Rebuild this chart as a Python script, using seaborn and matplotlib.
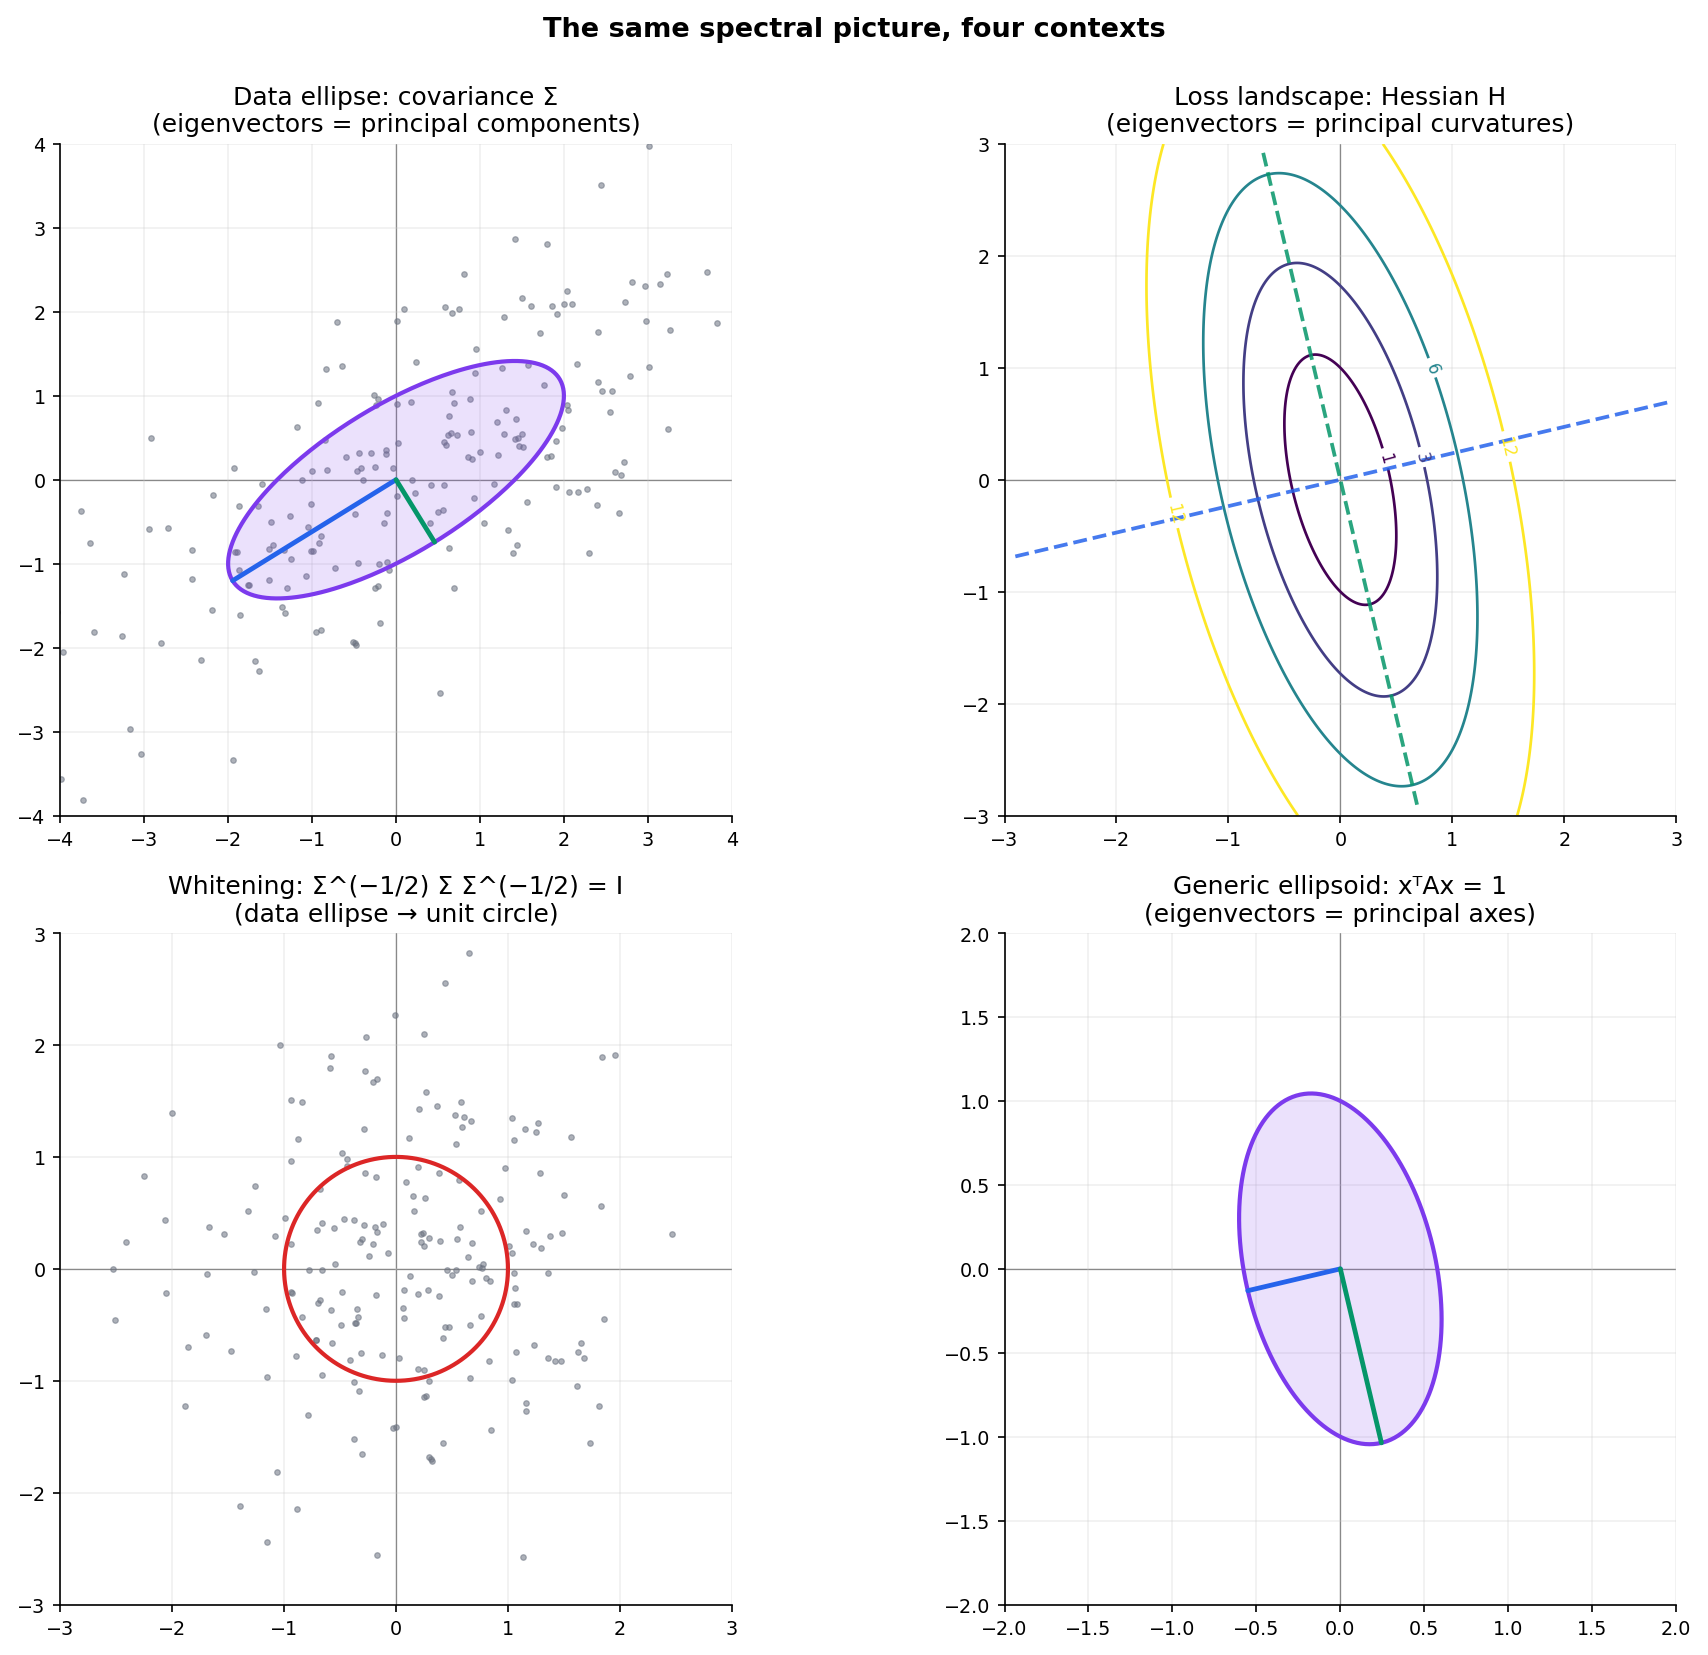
import numpy as np
import matplotlib
matplotlib.use("Agg")
import matplotlib.pyplot as plt
import seaborn as sns

sns.set_style("ticks")
plt.rcParams["font.family"] = ["DejaVu Sans"]
plt.rcParams["xtick.labelsize"] = 9.2
plt.rcParams["ytick.labelsize"] = 9.2
plt.rcParams["text.color"] = "black"
plt.rcParams["xtick.color"] = "black"
plt.rcParams["ytick.color"] = "black"
plt.rcParams["axes.edgecolor"] = "black"

# matrices behind the four panels
cov = np.array([[4.0, 2.0], [2.0, 2.0]])
hess = np.array([[5.0, 1.0], [1.0, 1.0]])
amat = np.array([[3.0, 0.5], [0.5, 1.0]])
loss_levels = [1, 3, 6, 12]
label_spots = [(0.36, 0.18), (0.72, 0.2), (0.82, 1.0), (1.5, 0.3), (-1.5, -0.3)]

# whitened samples
z_x = [-0.012, -0.265, -1.039, -0.583, -0.592, -0.280, -0.208, -0.173, -0.940, -0.836,
       -2.003, -0.289, -0.878, -0.482, -0.440, -0.940, -0.435, -0.280, -0.182, -2.253,
       -1.262, -0.682, -1.324, -2.065, -0.994, -1.673, -1.536, -1.083, -0.940, -2.408,
       -0.708, -0.664, -0.557, -0.464, -0.378, -0.289, -0.190, -0.173, -0.119, -0.324,
       -0.307, -0.208, -0.244, -0.068, -0.548, -2.530, -0.780, -0.664, -1.690, -1.271,
       -2.057, -2.512, -0.942, -0.928, -1.164, -0.699, -0.682, -0.485, -0.182, -0.842,
       -0.583, -0.351, -0.342, -0.494, -0.369, -0.360, -1.699, -1.860, -1.476, -0.717,
       -0.711, -0.574, -0.896, -0.414, -0.315, -0.128, 0.024, -1.155, -0.664, -0.378,
       -0.333, -1.887, -0.789, -0.030, -0.003, -0.378, -0.307, -1.065, -1.396, -0.887,
       -1.155, -0.173,
       0.649, 0.435, 0.247, 1.836, 1.952, 0.265, 0.202, 0.363, 0.577, 0.524,
       0.604, 0.667, 0.586, 0.533, 0.113, 1.033, 1.149, 1.265, 1.247, 1.051,
       1.560, 0.193, 0.381, 0.565, 0.970, 1.283, 0.092, 0.149, 0.256, 0.158,
       0.926, 0.756, 1.497, 1.827, 0.568, 0.220, 0.238, 0.292, 0.220, 0.247,
       0.390, 0.542, 0.676, 0.640, 1.158, 1.372, 1.479, 1.220, 1.292, 1.006,
       1.033, 2.470, 0.738, 0.774, 0.765,
       0.122, 0.452, 0.533, 0.497, 0.676, 0.800, 0.836, 1.051, 1.354, 0.068,
       0.193, 0.283, 0.381, 1.060, 0.060, 0.068, 1.051, 1.077, 0.756, 0.658,
       0.435, 0.470, 0.417, 1.854, 1.229, 1.649, 1.622, 1.676, 1.068, 1.354,
       1.417, 1.470, 0.827, 0.193, 0.247, 0.292, 0.658, 1.033, 1.613, 0.247,
       0.265, 1.158, 1.158, 1.810, 0.845, 0.417, 1.729, 0.292, 0.310, 0.318,
       1.131]
z_y = [2.271, 2.071, 2.000, 1.902, 1.795, 1.768, 1.670, 1.696, 1.509, 1.491,
       1.393, 1.250, 1.161, 1.036, 0.982, 0.964, 0.923, 0.857, 0.821, 0.830,
       0.741, 0.714, 0.518, 0.438, 0.455, 0.375, 0.313, 0.295, 0.223, 0.241,
       0.348, 0.411, 0.366, 0.446, 0.438, 0.393, 0.375, 0.330, 0.402, 0.241,
       0.268, 0.223, 0.116, 0.143, 0.045, 0.002, -0.009, -0.009, -0.045, -0.027,
       -0.214, -0.456, -0.211, -0.213, -0.357, -0.301, -0.277, -0.205, -0.232, -0.429,
       -0.366, -0.357, -0.429, -0.500, -0.485, -0.487, -0.589, -0.696, -0.732, -0.632,
       -0.637, -0.661, -0.777, -0.813, -0.750, -0.768, -0.795, -0.964, -0.946, -1.009,
       -1.089, -1.223, -1.304, -1.420, -1.411, -1.518, -1.652, -1.813, -2.116, -2.143,
       -2.438, -2.554,
       2.821, 2.554, 2.098, 1.893, 1.911, 1.580, 1.429, 1.455, 1.491, 1.375,
       1.357, 1.321, 1.268, 1.116, 1.170, 1.348, 1.250, 1.304, 1.223, 1.152,
       1.179, 0.911, 0.857, 0.795, 0.902, 0.857, 0.777, 0.652, 0.634, 0.518,
       0.625, 0.518, 0.661, 0.563, 0.375, 0.313, 0.321, 0.277, 0.241, 0.205,
       0.250, 0.268, 0.232, 0.107, 0.339, 0.295, 0.321, 0.223, 0.188, 0.205,
       0.143, 0.313, 0.018, 0.045, 0.009,
       -0.063, -0.009, -0.009, -0.054, -0.107, -0.080, -0.107, -0.036, -0.036, -0.188,
       -0.223, -0.188, -0.241, -0.170, -0.348, -0.438, -0.313, -0.313, -0.420, -0.500,
       -0.518, -0.518, -0.616, -0.446, -0.679, -0.661, -0.741, -0.795, -0.741, -0.795,
       -0.821, -0.821, -0.821, -0.893, -0.902, -1.000, -0.973, -0.991, -1.045, -1.143,
       -1.134, -1.196, -1.268, -1.223, -1.438, -1.554, -1.554, -1.679, -1.696, -1.714,
       -2.571]

BLUE = "#2563eb"
GREEN = "#059669"
PURPLE = "#7c3aed"
RED = "#dc2626"
DOT = "#6b7280"

z = np.column_stack([z_x, z_y])
vals, vecs = np.linalg.eigh(cov)
sqrt_cov = vecs @ np.diag(np.sqrt(vals)) @ vecs.T
data = z @ sqrt_cov
inv_sqrt = vecs @ np.diag(1 / np.sqrt(vals)) @ vecs.T
white = data @ inv_sqrt

t = np.linspace(0, 2 * np.pi, 300)
unit = np.vstack([np.cos(t), np.sin(t)])

fig, axes = plt.subplots(2, 2, figsize=(1708 / 150, 1656 / 150), dpi=150)
fig.subplots_adjust(left=0.0351, right=0.9815, bottom=0.0304, top=0.9125,
                    wspace=0.405, hspace=0.175)


def base(ax, lim, ticks):
    ax.axhline(0, color="0.45", lw=0.6, zorder=0.5)
    ax.axvline(0, color="0.45", lw=0.6, zorder=0.5)
    ax.set_xlim(-lim, lim)
    ax.set_ylim(-lim, lim)
    ax.set_xticks(ticks)
    ax.set_yticks(ticks)
    ax.grid(True, alpha=0.3)
    ax.set_aspect("equal")


def dots(ax, xy):
    sns.scatterplot(x=xy[:, 0], y=xy[:, 1], ax=ax, s=7, color=DOT, alpha=0.55,
                    edgecolor=DOT, linewidth=0.6, legend=False, zorder=2)


# data ellipse
ax = axes[0, 0]
base(ax, 4, np.arange(-4, 5))
dots(ax, data)
ell = vecs @ np.diag(np.sqrt(vals)) @ unit
ax.fill(ell[0], ell[1], color=PURPLE, alpha=0.15, lw=0, zorder=3)
ax.plot(ell[0], ell[1], color=PURPLE, lw=2.0, zorder=4)
big = vecs[:, 1] * np.sqrt(vals[1])
small = vecs[:, 0] * np.sqrt(vals[0])
ax.plot([0, big[0]], [0, big[1]], color=BLUE, lw=2.3, zorder=5)
ax.plot([0, small[0]], [0, small[1]], color=GREEN, lw=2.3, zorder=5)
ax.set_title("Data ellipse: covariance \u03a3\n(eigenvectors = principal components)", fontsize=12)

# loss landscape
ax = axes[0, 1]
base(ax, 3, np.arange(-3, 4))
g = np.linspace(-3, 3, 400)
gx, gy = np.meshgrid(g, g)
f = hess[0, 0] * gx ** 2 + 2 * hess[0, 1] * gx * gy + hess[1, 1] * gy ** 2
cs = ax.contour(gx, gy, f, levels=loss_levels, cmap="viridis", linewidths=1.3)
ax.clabel(cs, fontsize=8, inline=True, fmt="%g", manual=label_spots)
hv, hvec = np.linalg.eigh(hess)
s = np.array([-3, 3])
ax.plot(s * hvec[0, 1], s * hvec[1, 1], "--", color=BLUE, lw=1.8, alpha=0.85)
ax.plot(s * hvec[0, 0], s * hvec[1, 0], "--", color=GREEN, lw=1.8, alpha=0.85)
ax.set_title("Loss landscape: Hessian H\n(eigenvectors = principal curvatures)", fontsize=12)

# whitening
ax = axes[1, 0]
base(ax, 3, np.arange(-3, 4))
dots(ax, white)
ax.plot(unit[0], unit[1], color=RED, lw=2.0, zorder=4)
ax.set_title("Whitening: \u03a3^(\u22121/2) \u03a3 \u03a3^(\u22121/2) = I\n(data ellipse \u2192 unit circle)", fontsize=12)

# generic ellipsoid
ax = axes[1, 1]
base(ax, 2, np.arange(-2, 2.01, 0.5))
av, avec = np.linalg.eigh(amat)
radii = 1 / np.sqrt(av)
ell = avec @ np.diag(radii) @ unit
ax.fill(ell[0], ell[1], color=PURPLE, alpha=0.15, lw=0, zorder=3)
ax.plot(ell[0], ell[1], color=PURPLE, lw=2.0, zorder=4)
short = avec[:, 1] * radii[1]
long_ = avec[:, 0] * radii[0]
ax.plot([0, short[0]], [0, short[1]], color=BLUE, lw=2.3, zorder=5)
ax.plot([0, long_[0]], [0, long_[1]], color=GREEN, lw=2.3, zorder=5)
ax.set_title("Generic ellipsoid: x\u1d40Ax = 1\n(eigenvectors = principal axes)", fontsize=12)

sns.despine(fig=fig)
fig.suptitle("The same spectral picture, four contexts", fontsize=13, fontweight="bold", y=0.99)
fig.savefig("out.png", dpi=150)
